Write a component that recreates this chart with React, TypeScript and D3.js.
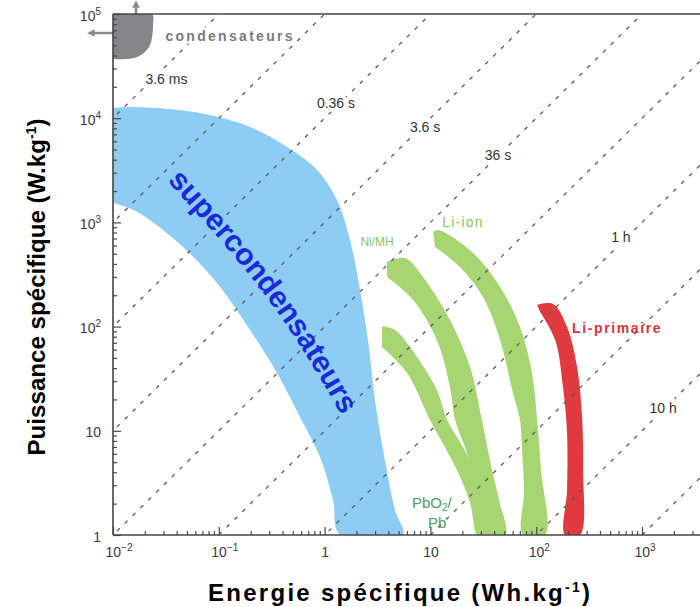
import React, { useEffect, useRef } from 'react';
import * as d3 from 'd3';

const W = 700;
const H = 607;

// discharge time lines: E / P = t (hours)
const timeConstants = [1e-6, 1e-5, 1e-4, 1e-3, 1e-2, 1e-1, 1, 10, 100, 1000];
const timeLabelText = ['3.6 ms', '0.36 s', '3.6 s', '36 s', '1 h', '10 h'];
const timeLabelE = [0.032, 1.28, 8.9, 43.5, 631, 1580];
const timeLabelP = [23800, 14000, 8200, 4430, 724, 16.5];

// outlines as [energie Wh/kg, puissance W/kg]
const condensateurs = [
  [0.01, 1e5], [0.0234, 1e5], [0.0239, 78400], [0.0234, 60100], [0.0224, 50400],
  [0.02, 43200], [0.0169, 38700], [0.0136, 37000], [0.01, 37000],
];
const supercondensateurs = [
  [0.01, 12500], [0.0155, 12800], [0.0664, 11200], [0.197, 8240], [0.441, 5300],
  [0.848, 3190], [1.31, 1640], [1.74, 678], [2.16, 224], [2.57, 74], [2.99, 19.8],
  [3.72, 5.2], [4.63, 1.74], [5.5, 1],
  [1.4, 1], [1.2, 2.17], [0.905, 5.6], [0.585, 13.6], [0.355, 35.9], [0.197, 92.8],
  [0.0962, 262], [0.0459, 581], [0.0224, 1050], [0.0155, 1320], [0.01, 1540],
];
const niMH = [
  [3.89, 417], [5.75, 455], [8.51, 299], [15.3, 116], [23.7, 41], [30.7, 12.7],
  [38.2, 4.2], [44.5, 2.17], [50.7, 1],
  [28.2, 1], [25.8, 2.17], [22.7, 5.6], [17.1, 12.7], [15.3, 26.3], [11.5, 74.3],
  [6.85, 180], [3.89, 299],
];
const pbO2 = [
  [3.49, 101], [4.63, 92.8], [7.47, 51.1], [11.5, 24.6], [14.4, 12.7], [22.7, 5.6],
  [29.4, 2.17], [30.7, 1],
  [27.6, 1], [23.7, 2.03], [17.8, 4.2], [9.91, 12.7], [6.01, 35.9], [3.49, 63.7],
];
const liIon = [
  [10.6, 809], [11.8, 845], [25.3, 509], [45.5, 240], [70.3, 99.1], [91.3, 35.9],
  [102, 12.7], [111, 4.2], [121, 1],
  [75, 1], [76.7, 2.7], [73.4, 6.5], [70.3, 12.7], [60.3, 23.1], [45.5, 74.3],
  [31.4, 192], [19, 373], [11.05, 581],
];
const liPrimaire = [
  [102, 161], [144, 165], [195.5, 99.1], [243, 41], [271, 13.6], [277, 4.5], [259, 1],
  [187, 1], [195.5, 2.7], [195.5, 9.5], [179, 26.3], [151, 74.3], [109, 138],
];
const superLabelPath = [[0.0224, 6180], [0.0386, 2980], [0.355, 210], [1.85, 14.8], [2.99, 7.3]];

const xMajor = [1e-2, 1e-1, 1, 10, 100, 1000];
const xTickBase = ['10', '10', '1', '10', '10', '10'];
const xTickSup = ['−2', '−1', '', '', '2', '3'];
const yMajor = [1, 10, 100, 1e3, 1e4, 1e5];
const yTickBase = ['1', '10', '10', '10', '10', '10'];
const yTickSup = ['', '', '2', '3', '4', '5'];

const FONT = 'Liberation Sans, Arial, Helvetica, sans-serif';

export default function App() {
  const axesRef = useRef<SVGGElement>(null);

  const left = 113, right = 700, top = 14, bottom = 535;
  const x = d3.scaleLog().domain([0.01, 3530]).range([left, right]);
  const y = d3.scaleLog().domain([1, 1e5]).range([bottom, top]);

  const smooth = d3.line<number[]>().x(d => x(d[0])).y(d => y(d[1])).curve(d3.curveCatmullRom.alpha(0.5));
  const shape = (pts: number[][]) => smooth(pts) + 'Z';
  const straight = d3.line<number[]>().x(d => x(d[0])).y(d => y(d[1]));

  useEffect(() => {
    const g = d3.select(axesRef.current);
    g.selectAll('*').remove();
    const isMajor = (v: number) => Math.abs(Math.log10(v) - Math.round(Math.log10(v))) < 1e-6;

    // ticks point inward, minor ones shorter
    const gxMinor = g.append('g').attr('transform', `translate(0,${bottom})`)
      .call(d3.axisBottom(x).tickValues(x.ticks().filter(v => !isMajor(v))).tickSize(-4).tickFormat(() => ''));
    const gxMajor = g.append('g').attr('transform', `translate(0,${bottom})`)
      .call(d3.axisBottom(x).tickValues(xMajor).tickSize(-8).tickFormat(() => ''));
    const gyMinor = g.append('g').attr('transform', `translate(${left},0)`)
      .call(d3.axisLeft(y).tickValues(y.ticks().filter(v => !isMajor(v))).tickSize(-4).tickFormat(() => ''));
    const gyMajor = g.append('g').attr('transform', `translate(${left},0)`)
      .call(d3.axisLeft(y).tickValues(yMajor).tickSize(-8).tickFormat(() => ''));

    [gxMinor, gxMajor, gyMinor, gyMajor].forEach(a => {
      a.select('.domain').remove();
      a.selectAll('.tick text').remove();
      a.selectAll('.tick line').attr('stroke', '#4a4a4a').attr('stroke-width', 1.2);
    });

    gxMajor.selectAll<SVGGElement, number>('.tick').each(function (d, i) {
      const t = d3.select(this).append('text')
        .attr('y', 22).attr('fill', '#3a3a3a').attr('font-size', 14).attr('font-family', FONT);
      if (xTickSup[i]) {
        t.attr('text-anchor', 'start').attr('x', -8);
        t.append('tspan').text(xTickBase[i]);
        t.append('tspan').attr('font-size', 10).attr('dy', -6).text(xTickSup[i]);
      } else {
        t.attr('text-anchor', 'middle').text(xTickBase[i]);
      }
    });
    gyMajor.selectAll<SVGGElement, number>('.tick').each(function (d, i) {
      const t = d3.select(this).append('text')
        .attr('x', -12).attr('y', 6).attr('text-anchor', 'end')
        .attr('fill', '#3a3a3a').attr('font-size', 14).attr('font-family', FONT);
      t.append('tspan').text(yTickBase[i]);
      if (yTickSup[i]) t.append('tspan').attr('font-size', 10).attr('dy', -6).text(yTickSup[i]);
    });

    // frame
    g.append('line').attr('x1', left).attr('x2', left).attr('y1', top).attr('y2', bottom);
    g.append('line').attr('x1', left).attr('x2', right).attr('y1', bottom).attr('y2', bottom);
    g.append('line').attr('x1', left).attr('x2', right).attr('y1', top).attr('y2', top);
    g.selectAll(':scope > line').attr('stroke', '#444').attr('stroke-width', 1.6);
  }, []);

  const eMin = x.domain()[0];
  const eMax = x.domain()[1];

  return (
    <svg width={W} height={H} style={{ position: 'absolute', left: 0, top: 0, background: '#fff' }}
      fontFamily={FONT}>
      <defs>
        <clipPath id="plot">
          <rect x={left} y={top} width={right - left} height={bottom - top} />
        </clipPath>
        <marker id="arrow" viewBox="0 0 10 10" refX="5" refY="5" markerWidth="3" markerHeight="3" orient="auto">
          <path d="M0,0 L10,5 L0,10 Z" fill="#8a8a8a" />
        </marker>
        <path id="superPath" d={d3.line<number[]>().x(d => x(d[0])).y(d => y(d[1])).curve(d3.curveNatural)(superLabelPath) || ''} />
      </defs>

      <g clipPath="url(#plot)">
        <path d={shape(condensateurs)} fill="#858589" />
        <path d={shape(supercondensateurs)} fill="#8dcdf4" />
        <path d={shape(niMH)} fill="#a7d572" />
        <path d={shape(pbO2)} fill="#a7d572" />
        <path d={shape(liIon)} fill="#a7d572" />
        <path d={shape(liPrimaire)} fill="#e0393e" />
        {timeConstants.map(t => (
          <path key={t} d={straight([[eMin / 10, eMin / 10 / t], [eMax * 10, eMax * 10 / t]]) || ''}
            fill="none" stroke="#5a5a5a" strokeWidth={1.3} strokeDasharray="4,7" />
        ))}
      </g>

      {/* arrows leaving the condensateurs zone */}
      <line x1={x(0.0165)} x2={x(0.0165)} y1={y(1e5)} y2={4} stroke="#8a8a8a" strokeWidth={2.5} markerEnd="url(#arrow)" />
      <line x1={x(0.01)} x2={x(0.01) - 22} y1={y(65700)} y2={y(65700)} stroke="#8a8a8a" strokeWidth={2.5} markerEnd="url(#arrow)" />

      {timeLabelText.map((s, i) => (
        <text key={s} x={x(timeLabelE[i])} y={y(timeLabelP[i])} dy="0.35em" textAnchor="middle"
          fontSize={14} fill="#333" stroke="#fff" strokeWidth={7} paintOrder="stroke">{s}</text>
      ))}

      <text x={x(0.128)} y={y(61500)} dy="0.35em" textAnchor="middle" fontSize={14} fontWeight="bold"
        letterSpacing={2.3} fill="#7a7a7a" stroke="#fff" strokeWidth={5} paintOrder="stroke">condensateurs</text>

      <text fontSize={30} fontWeight="bold" fill="#1a2ad8" dominantBaseline="central">
        <textPath href="#superPath" startOffset="50%" textAnchor="middle">supercondensateurs</textPath>
      </text>

      <text x={x(3.13)} y={y(649)} dy="0.35em" textAnchor="middle" fontSize={12} fill="#86c45c">Ni/MH</text>
      <text x={x(20.3)} y={y(1009)} dy="0.35em" textAnchor="middle" fontSize={14} letterSpacing={1.2} fill="#86c45c">Li-ion</text>
      <text x={x(581)} y={y(97)} dy="0.35em" textAnchor="middle" fontSize={14} fontWeight="bold" letterSpacing={1.6} fill="#d9343d">Li-primaire</text>
      <text x={x(6.7)} y={y(1.8)} fontSize={15} fill="#4f9a62">
        PbO<tspan fontSize={10} dy={3}>2</tspan><tspan dy={-3}>/</tspan>
      </text>
      <text x={x(9.5)} y={y(1.16)} fontSize={15} fill="#4f9a62">Pb</text>

      <g ref={axesRef} />

      <text x={399} y={601} textAnchor="middle" fontSize={24} fontWeight="bold" fill="#000"
        textLength={382} lengthAdjust="spacing">
        Energie spécifique (Wh.kg<tspan fontSize={14} dy={-9}>-1</tspan><tspan dy={9}>)</tspan>
      </text>
      <text transform="translate(45,287) rotate(-90)" textAnchor="middle" fontSize={24} fontWeight="bold" fill="#000"
        textLength={337} lengthAdjust="spacingAndGlyphs">
        Puissance spécifique (W.kg<tspan fontSize={14} dy={-9}>-1</tspan><tspan dy={9}>)</tspan>
      </text>
    </svg>
  );
}
